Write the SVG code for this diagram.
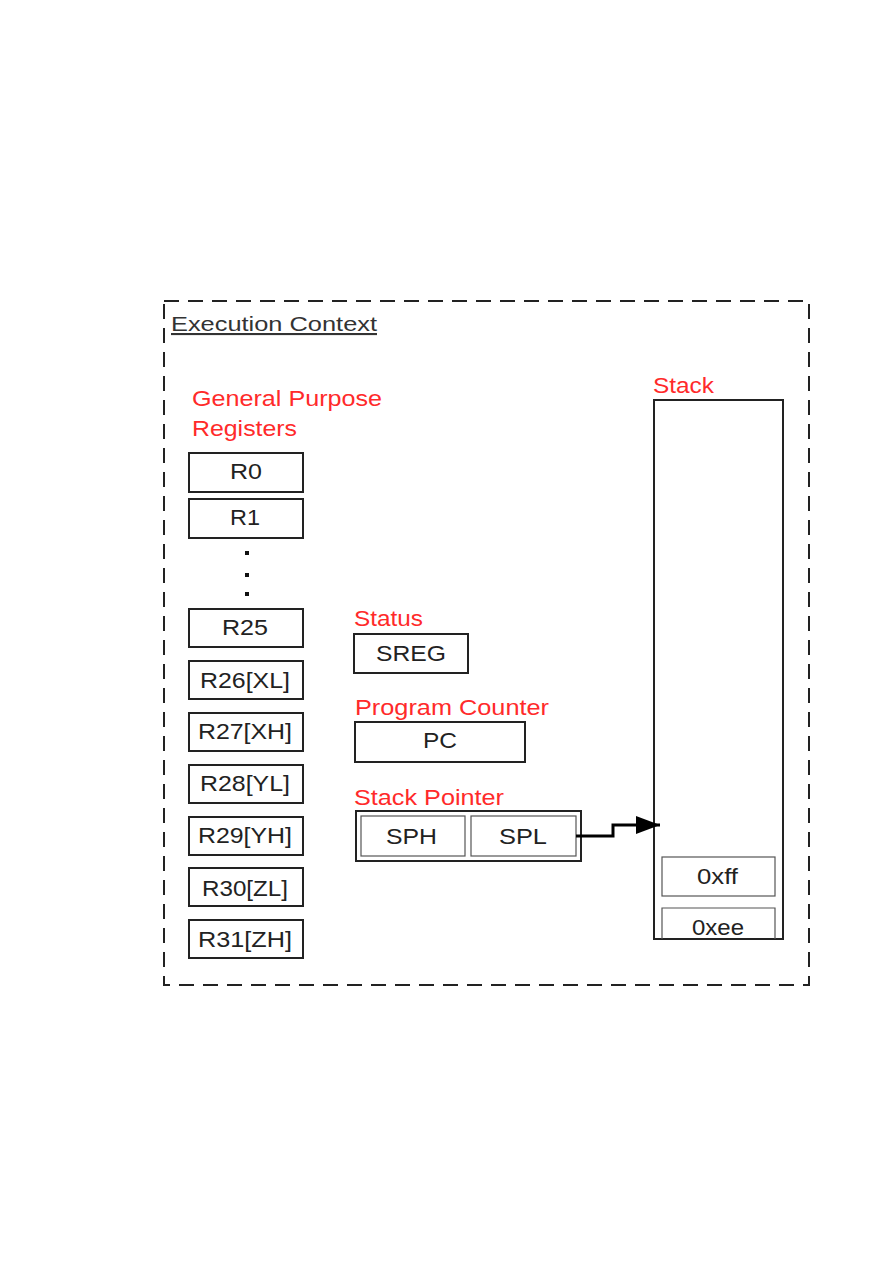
<svg xmlns="http://www.w3.org/2000/svg" width="893" height="1263" viewBox="0 0 893 1263">
<style>
.box{fill:#fff;stroke:#222;stroke-width:2}
.thin{fill:#fff;stroke:#555;stroke-width:1.2}
.t{font-family:"Liberation Sans",Arial,sans-serif;font-size:22px;fill:#222}
.r{font-family:"Liberation Sans",Arial,sans-serif;font-size:22px;fill:#ff2a2a}
</style>
<defs>
<marker id="ah" markerWidth="8" markerHeight="6" refX="8" refY="3" orient="auto" markerUnits="strokeWidth">
<path d="M0,0 L8,3 L0,6 Z" fill="#000"/>
</marker>
</defs>
<rect width="893" height="1263" fill="#fff"/>
<g id="context">
<rect x="164" y="301" width="645" height="684" fill="none" stroke="#222" stroke-width="2" stroke-dasharray="15,9"/>
<text x="171" y="331" font-family="Liberation Sans,Arial,sans-serif" font-size="21" fill="#333" text-decoration="underline" textLength="206" lengthAdjust="spacingAndGlyphs">Execution Context</text>
</g>
<g id="gpr-label">
<text class="r" x="192" y="406" textLength="190" lengthAdjust="spacingAndGlyphs">General Purpose</text>
<text class="r" x="192" y="436" textLength="105" lengthAdjust="spacingAndGlyphs">Registers</text>
</g>
<g id="R0"><rect class="box" x="189" y="453" width="114" height="39"/><text class="t" x="230" y="479" textLength="32" lengthAdjust="spacingAndGlyphs">R0</text></g>
<g id="R1"><rect class="box" x="189" y="499" width="114" height="39"/><text class="t" x="230" y="525" textLength="30" lengthAdjust="spacingAndGlyphs">R1</text></g>
<g id="dots"><rect x="245" y="551" width="4" height="4" fill="#111"/><rect x="245" y="573" width="4" height="4" fill="#111"/><rect x="245" y="592" width="4" height="4" fill="#111"/></g>
<g id="R25"><rect class="box" x="189" y="609" width="114" height="38"/><text class="t" x="222" y="635" textLength="46" lengthAdjust="spacingAndGlyphs">R25</text></g>
<g id="R26"><rect class="box" x="189" y="661" width="114" height="38"/><text class="t" x="200" y="688" textLength="90" lengthAdjust="spacingAndGlyphs">R26[XL]</text></g>
<g id="R27"><rect class="box" x="189" y="713" width="114" height="38"/><text class="t" x="198" y="739" textLength="94" lengthAdjust="spacingAndGlyphs">R27[XH]</text></g>
<g id="R28"><rect class="box" x="189" y="765" width="114" height="38"/><text class="t" x="200" y="791" textLength="90" lengthAdjust="spacingAndGlyphs">R28[YL]</text></g>
<g id="R29"><rect class="box" x="189" y="817" width="114" height="38"/><text class="t" x="198" y="843" textLength="94" lengthAdjust="spacingAndGlyphs">R29[YH]</text></g>
<g id="R30"><rect class="box" x="189" y="868" width="114" height="38"/><text class="t" x="202" y="896" textLength="86" lengthAdjust="spacingAndGlyphs">R30[ZL]</text></g>
<g id="R31"><rect class="box" x="189" y="920" width="114" height="38"/><text class="t" x="198" y="947" textLength="94" lengthAdjust="spacingAndGlyphs">R31[ZH]</text></g>
<g id="status">
<text class="r" x="354" y="626" textLength="69" lengthAdjust="spacingAndGlyphs">Status</text>
<rect class="box" x="354" y="634" width="114" height="39"/><text class="t" x="376" y="661" textLength="70" lengthAdjust="spacingAndGlyphs">SREG</text>
</g>
<g id="pc">
<text class="r" x="355" y="715" textLength="194" lengthAdjust="spacingAndGlyphs">Program Counter</text>
<rect class="box" x="355" y="722" width="170" height="40"/><text class="t" x="423" y="748" textLength="34" lengthAdjust="spacingAndGlyphs">PC</text>
</g>
<g id="sp">
<text class="r" x="354" y="805" textLength="150" lengthAdjust="spacingAndGlyphs">Stack Pointer</text>
<rect class="box" x="356" y="811" width="225" height="50"/>
<rect class="thin" x="361" y="816" width="104" height="40"/><text class="t" x="386" y="844" textLength="51" lengthAdjust="spacingAndGlyphs">SPH</text>
<rect class="thin" x="471" y="816" width="105" height="40"/><text class="t" x="499" y="844" textLength="48" lengthAdjust="spacingAndGlyphs">SPL</text>
</g>
<g id="stack">
<text class="r" x="653" y="393" textLength="61" lengthAdjust="spacingAndGlyphs">Stack</text>
<rect class="box" x="654" y="400" width="129" height="539"/>
<rect class="thin" x="662" y="857" width="113" height="39"/><text class="t" x="697" y="884" textLength="41" lengthAdjust="spacingAndGlyphs">0xff</text>
<path d="M662,939 V908 H775 V939" fill="none" stroke="#555" stroke-width="1.2"/>
<text class="t" x="692" y="935" textLength="52" lengthAdjust="spacingAndGlyphs">0xee</text>
</g>
<g id="connectors">
<path d="M576,836 H613 V825 H660" fill="none" stroke="#000" stroke-width="3" marker-end="url(#ah)"/>
</g>
</svg>
